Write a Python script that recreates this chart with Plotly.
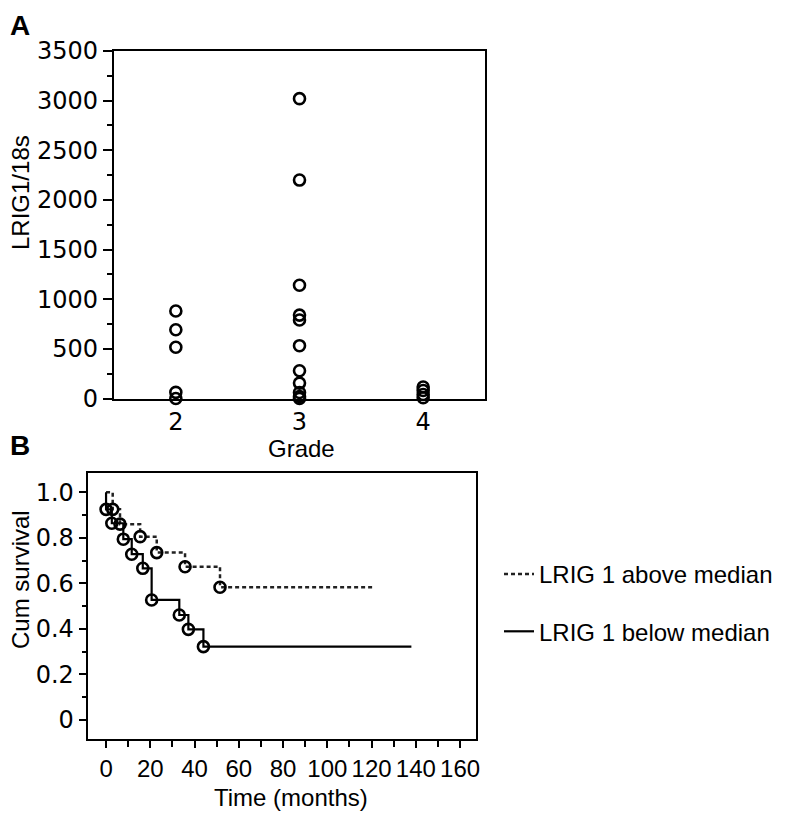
import plotly.graph_objects as go

# ---------------- Panel A data ----------------
grade2 = [881, 693, 516, 62, 0]
grade3 = [3020, 2200, 1140, 840, 790, 532, 280, 155, 60, 20, 0]
grade4 = [116, 80, 40, 8]
grade_ticks = [2, 3, 4]

# ---------------- Panel B data ----------------
t_above = [0, 3.0, 6.3, 15.4, 22.9, 35.7, 51.5, 120.8]
s_above = [1.0, 0.925, 0.86, 0.805, 0.735, 0.673, 0.583, 0.583]
t_below = [0, 0.0, 2.6, 7.8, 11.6, 16.6, 20.6, 33.1, 37.2, 44.0, 138.0]
s_below = [1.0, 0.925, 0.864, 0.794, 0.728, 0.666, 0.527, 0.461, 0.398, 0.322, 0.322]
legend_labels = ["LRIG 1 above median", "LRIG 1 below median"]

W, H = 786, 814
OFF = 8  # page body margin
FONT = "Liberation Sans, Arial, Helvetica, sans-serif"
TICKFONT = "DejaVu Sans, Liberation Sans, Arial, sans-serif"
FS = 24
TFS = 24

def px(x):
    return (x - OFF) / W

def py(y):
    return 1 - (y - OFF) / H

fig = go.Figure()

marker_style = dict(symbol="circle-open", size=11, color="black", line=dict(width=2.6, color="black"))

# Panel A scatter
for g, vals in zip(grade_ticks, [grade2, grade3, grade4]):
    fig.add_trace(go.Scatter(
        x=[g] * len(vals), y=vals, mode="markers", marker=marker_style,
        xaxis="x", yaxis="y", showlegend=False, cliponaxis=False,
    ))

# Panel B survival curves
fig.add_trace(go.Scatter(
    x=t_above, y=s_above, mode="lines", line_shape="hv",
    line=dict(color="#222", width=2.5, dash="4px,3px"),
    name=legend_labels[0], xaxis="x2", yaxis="y2", legendgroup="a",
))
fig.add_trace(go.Scatter(
    x=t_below, y=s_below, mode="lines", line_shape="hv",
    line=dict(color="black", width=2.2),
    name=legend_labels[1], xaxis="x2", yaxis="y2", legendgroup="b",
))
fig.add_trace(go.Scatter(
    x=t_above[1:-1], y=s_above[1:-1], mode="markers", marker=marker_style,
    xaxis="x2", yaxis="y2", showlegend=False, cliponaxis=False,
))
fig.add_trace(go.Scatter(
    x=t_below[1:-1], y=s_below[1:-1], mode="markers", marker=marker_style,
    xaxis="x2", yaxis="y2", showlegend=False, cliponaxis=False,
))

axis_common = dict(showline=True, linecolor="black", linewidth=2.2, mirror=True,
                   showgrid=False, zeroline=False, automargin=False, tickangle=0)

fig.update_layout(
    template="none",
    width=W, height=H,
    margin=dict(l=0, r=0, t=0, b=0, pad=0, autoexpand=False),
    paper_bgcolor="white", plot_bgcolor="white",
    font=dict(family=FONT, size=FS, color="black"),
    xaxis=dict(domain=[px(114), px(485)], range=[1.5, 4.5], tickvals=grade_ticks,
               ticks="", ticklen=0, ticklabelstandoff=1, anchor="y",
               tickfont=dict(family=TICKFONT, size=TFS, color="black"), **axis_common),
    yaxis=dict(domain=[py(398.5), py(51)], range=[0, 3500], dtick=500,
               ticks="outside", ticklen=9, tickwidth=2, tickcolor="black",
               minor=dict(dtick=250, ticks="outside", ticklen=5, tickwidth=2, tickcolor="black"),
               anchor="x", tickfont=dict(family=TICKFONT, size=TFS, color="black"), **axis_common),
    xaxis2=dict(domain=[px(87.7), px(476)], range=[-8.3, 167.2], dtick=20,
                ticks="outside", ticklen=7, tickwidth=2.2, tickcolor="black",
                minor=dict(dtick=10, ticks="outside", ticklen=6, tickwidth=2, tickcolor="black"),
                anchor="y2", tickfont=dict(family=FONT, size=TFS, color="black"), **axis_common),
    yaxis2=dict(domain=[py(739.3), py(472.7)], range=[-0.085, 1.086],
                tickvals=[0, 0.2, 0.4, 0.6, 0.8, 1.0], ticktext=["0", "0.2", "0.4", "0.6", "0.8", "1.0"],
                ticks="outside", ticklen=7, tickwidth=2.2, tickcolor="black",
                minor=dict(dtick=0.1, ticks="outside", ticklen=4, tickwidth=2, tickcolor="black"),
                anchor="x2", tickfont=dict(family=TICKFONT, size=TFS, color="black"), **axis_common),
    legend=dict(x=px(499), y=py(552), xanchor="left", yanchor="top",
                font=dict(family=FONT, size=FS, color="black"),
                bgcolor="rgba(0,0,0,0)", borderwidth=0, tracegroupgap=23, itemwidth=30),
    showlegend=True,
)

annotations = [
    dict(text="<b>A</b>", x=px(8), y=py(8), xanchor="left", yanchor="top", size=28),
    dict(text="<b>B</b>", x=px(8), y=py(428), xanchor="left", yanchor="top", size=28),
    dict(text="LRIG1/18s", x=px(20), y=py(193), textangle=-90, xanchor="center", yanchor="middle"),
    dict(text="Grade", x=px(301), y=py(448), xanchor="center", yanchor="middle"),
    dict(text="Cum survival", x=px(20), y=py(580), textangle=-90, xanchor="center", yanchor="middle"),
    dict(text="Time (months)", x=px(291), y=py(797), xanchor="center", yanchor="middle"),
]
for a in annotations:
    size = a.pop("size", FS)
    fig.add_annotation(xref="paper", yref="paper", showarrow=False,
                       font=dict(family=FONT, size=size, color="black"), **a)

fig.write_html("out.html")
